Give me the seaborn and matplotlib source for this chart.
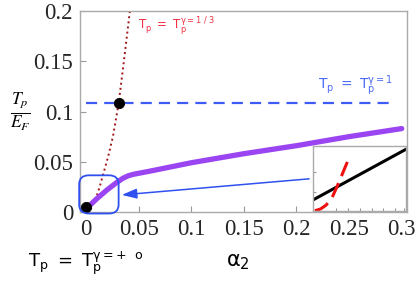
import numpy as np
import matplotlib
matplotlib.use("Agg")
import matplotlib.pyplot as plt
import seaborn as sns
from matplotlib.patches import FancyBboxPatch

# data
purple_x = [0.002, 0.01, 0.02, 0.03, 0.035, 0.04, 0.045, 0.05, 0.06, 0.1, 0.15, 0.2, 0.25, 0.3]
purple_y = [0.005, 0.013, 0.022, 0.030, 0.0335, 0.036, 0.0375, 0.0385, 0.0405, 0.049, 0.058, 0.066, 0.075, 0.083]
cube_x = [0.0, 0.005, 0.009, 0.013, 0.017, 0.021, 0.0256, 0.031, 0.036, 0.0417]
cube_y = [0.0, 0.004, 0.012, 0.025, 0.040, 0.055, 0.075, 0.108, 0.15, 0.2]
gamma1_x = [0.0, 0.291]
gamma1_y = [0.108, 0.108]
dots_x = [0.0, 0.031]
dots_y = [0.005, 0.108]
xticks = [0, 0.05, 0.1, 0.15, 0.2, 0.25, 0.3]
xticklabels = ["0", "0.05", "0.1", "0.15", "0.2", "0.25", "0.3"]
yticks = [0, 0.05, 0.1, 0.15, 0.2]
yticklabels = ["0", "0.05", "0.1", "0.15", "0.2"]

# inset curves (normalised units)
inset_black_x = [0.0, 1.0]
inset_black_y = [0.17, 0.95]
inset_red_x = [0.02, 0.08, 0.14, 0.2, 0.26, 0.33, 0.40]
inset_red_y = [0.005, 0.03, 0.09, 0.19, 0.38, 0.62, 0.86]

sns.set_style("ticks")
plt.rcParams["font.family"] = ["Liberation Serif", "DejaVu Serif"]

fig = plt.figure(figsize=(4.15, 2.81), dpi=100)
ax = fig.add_axes([80/415, 1-212/281, 327/415, 201/281])

sns.lineplot(x=cube_x, y=cube_y, ax=ax, color="#a01418", lw=1.4, linestyle=":", sort=False)
sns.lineplot(x=gamma1_x, y=gamma1_y, ax=ax, color="#3d5cf5", lw=1.6, dashes=False)
ax.lines[-1].set_dashes([5, 3.2])
sns.lineplot(x=purple_x, y=purple_y, ax=ax, color="#9b45f2", lw=3.8)
sns.scatterplot(x=dots_x, y=dots_y, ax=ax, color="black", s=55, zorder=5, edgecolor="black")

# zoom box and arrow
box = FancyBboxPatch((-0.0065, -0.0015), 0.0375, 0.038,
                     boxstyle="round,pad=0,rounding_size=0.009",
                     fc="none", ec="#3050f0", lw=1.3, clip_on=False, zorder=6)
ax.add_patch(box)
ax.annotate("", xy=(0.034, 0.017), xytext=(0.212, 0.033),
            arrowprops=dict(arrowstyle="-|>,head_length=0.9,head_width=0.3",
                            color="#3050f0", lw=1.1, shrinkA=0, shrinkB=0))

ax.set_xlim(-0.0057, 0.305)
ax.set_ylim(0, 0.2)
ax.set_xticks(xticks)
ax.set_xticklabels(xticklabels)
ax.set_yticks(yticks)
ax.set_yticklabels(yticklabels)
ax.tick_params(direction="in", length=4, color="#999999", labelsize=16.5, pad=5)
for s in ax.spines.values():
    s.set_color("#aaaaaa")
    s.set_linewidth(1.0)

# texts
fig.text(138/415, 1-30/281, r"$\mathrm{T_p\ =\ T_p^{\gamma=1\ /\ 3}}$",
         color="#f03040", fontsize=8.5, math_fontfamily="dejavusans", va="baseline")
fig.text(318/415, 1-89/281, r"$\mathrm{T_p\ =\ T_p^{\gamma=1}}$",
         color="#4a6af5", fontsize=10, math_fontfamily="dejavusans", va="baseline")
fig.text(28/415, 1-267/281, r"$\mathrm{T_p\ =\ T_p^{\gamma=+\ \ o}}$",
         color="black", fontsize=13, math_fontfamily="dejavusans", va="baseline")
fig.text(238/415, 1-266/281, r"$\mathrm{\alpha_2}$",
         color="black", fontsize=15, math_fontfamily="dejavusans", va="baseline", ha="center")
fig.text(20/415, 1-112/281, r"$\frac{T_p}{E_F}$",
         color="black", fontsize=18, math_fontfamily="stix", va="center", ha="center")

# inset
axin = fig.add_axes([313/415, 1-211/281, 93/415, 65/281])
sns.lineplot(x=inset_black_x, y=inset_black_y, ax=axin, color="black", lw=2.2)
sns.lineplot(x=inset_red_x, y=inset_red_y, ax=axin, color="#ee1111", lw=2.2)
axin.lines[-1].set_dashes([5, 2.5])
axin.set_xlim(0, 1)
axin.set_ylim(0, 1)
axin.set_xticks([0.25, 0.38, 0.5, 0.63, 0.75, 0.88, 0.98])
axin.set_yticks([0.3, 0.6])
axin.set_xticklabels([])
axin.set_yticklabels([])
axin.tick_params(direction="in", length=2.5, color="#999999")
axin.set_facecolor("white")
for s in axin.spines.values():
    s.set_color("#aaaaaa")
    s.set_linewidth(1.0)

fig.savefig("out.png", dpi=100)
